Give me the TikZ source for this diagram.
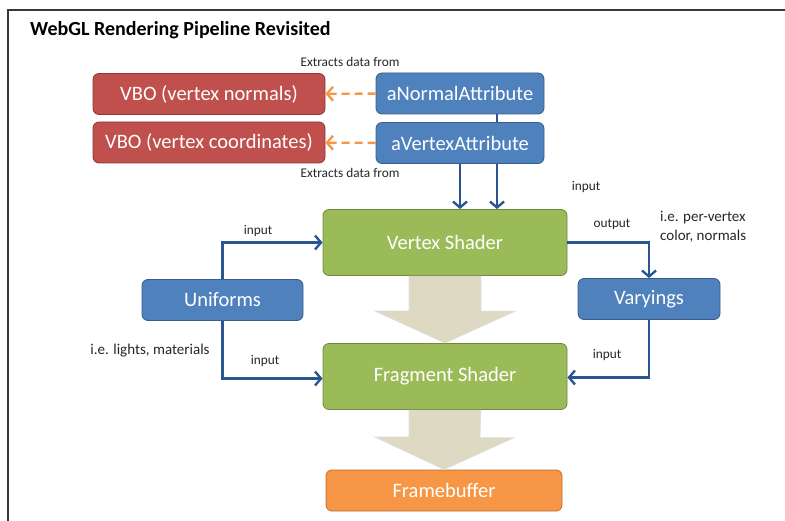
\documentclass[tikz,border=0pt]{standalone}
\usepackage{fontspec}
\setmainfont{Carlito}
\usetikzlibrary{arrows.meta, calc, positioning}
\definecolor{vboRed}{HTML}{C0504D}
\definecolor{vboRedDk}{HTML}{8C3836}
\definecolor{attrBlue}{HTML}{4F81BD}
\definecolor{attrBlueDk}{HTML}{385D8A}
\definecolor{shGreen}{HTML}{9BBB59}
\definecolor{shGreenDk}{HTML}{71893F}
\definecolor{fbOrange}{HTML}{F79646}
\definecolor{fbOrangeDk}{HTML}{B66D31}
\definecolor{flowBlue}{HTML}{2A5590}
\definecolor{pipeBeige}{HTML}{DDD9C3}
\definecolor{frameGray}{gray}{0.22}
\tikzset{
  box/.style       = {rectangle, rounded corners=6pt, line width=0.8pt,
                      text=white, font=\fontsize{20.5}{24}\selectfont,
                      minimum height=41pt, inner sep=0pt},
  vbobox/.style    = {box, fill=vboRed, draw=vboRedDk, minimum width=232pt},
  attrbox/.style   = {box, fill=attrBlue, draw=attrBlueDk, minimum width=168pt},
  sidebox/.style   = {box, fill=attrBlue, draw=attrBlueDk},
  shaderbox/.style = {box, fill=shGreen, draw=shGreenDk, minimum width=244pt,
                      minimum height=66pt},
  fbbox/.style     = {box, fill=fbOrange, draw=fbOrangeDk, minimum width=236pt},
  flow/.style      = {draw=flowBlue, line width=2.4pt, line join=miter,
                      -{Straight Barb[length=6pt, width=14pt]}},
  fetch/.style     = {draw=fbOrange, line width=2.4pt, dash pattern=on 8pt off 5pt,
                      -{Straight Barb[length=6pt, width=14pt]}},
  note/.style      = {font=\fontsize{13.3}{19}\selectfont, text=black!85,
                      inner sep=0pt},
  bignote/.style   = {note, font=\fontsize{15}{19}\selectfont},
  bigarrow/.style  = {fill=pipeBeige, draw=black!12, line width=0.6pt},
}

\begin{document}
\begin{tikzpicture}[x=1pt, y=-1pt]
  \useasboundingbox (0,0) rectangle (785,521);
  % frame (top and left only)
  \draw[frameGray, line width=1.6pt] (8,521) -- (8,10) -- (785,10);
  \node[anchor=west, font=\fontsize{20}{24}\selectfont\bfseries, inner sep=0pt]
    (title) at (30,30) {WebGL Rendering Pipeline Revisited};

  % buffers and attributes
  \node[vbobox] (vbonorm) at (209,94) {VBO (vertex normals)};
  \node[vbobox] (vbocoord) at (209,142.5) {VBO (vertex coordinates)};
  \node[attrbox] (anormal) at (460,93.5) {aNormalAttribute};
  \node[attrbox] (avertex) at (460,143) {aVertexAttribute};
  \node[note] (extop) at (350,62) {Extracts data from};
  \node[note] (exbot) at (350,173) {Extracts data from};
  \draw[fetch] (anormal) -- (vbonorm);
  \draw[fetch] (avertex) -- (vbocoord);
  \draw[flowBlue, line width=2.4pt] ([xshift=37pt]anormal.south) -- ([xshift=37pt]avertex.north);

  % shaders
  \node[shaderbox] (vshader) at (445,242.5) {Vertex Shader};
  \node[shaderbox] (fshader) at (445,376.5) {Fragment Shader};
  \node[fbbox] (fbuffer) at (444,490.5) {Framebuffer};
  \node[sidebox, minimum width=161pt] (uniforms) at (222.5,300) {Uniforms};
  \node[sidebox, minimum width=142pt] (varyings) at (649,299) {Varyings};

  % pipeline arrows
  \filldraw[bigarrow] ($(vshader.south)+(-36,0)$) -- ++(0,35) -- ++(-34.5,0)
    -- (fshader.north) -- ++(70.5,-32) -- ++(-34.5,0) -- ($(vshader.south)+(36,0)$);
  \filldraw[bigarrow] ($(fshader.south)+(-36,0)$) -- ++(0,27) -- ++(-34.5,0)
    -- (fbuffer.north) -- ++(70.5,-32) -- ++(-34.5,0) -- ($(fshader.south)+(36,0)$);

  % data flow
  \draw[flow] (avertex.south) -- (avertex.south |- vshader.north);
  \draw[flow] ([xshift=37pt]avertex.south) -- ([xshift=37pt]avertex.south |- vshader.north);
  \draw[flow] (uniforms.north) |- (vshader.west);
  \draw[flow] (uniforms.south) |- ([yshift=-2pt]fshader.west);
  \draw[flow] (vshader.east) -| (varyings.north);
  \draw[flow] (varyings.south) |- ([yshift=-1pt]fshader.west -| fshader.east);

  % labels
  \node[note] (lin1) at (586,187) {input};
  \node[note] (lout) at (612,224) {output};
  \node[bignote, anchor=west, align=left] (lvary) at (660,226.5)
    {i.e. per-vertex\\color, normals};
  \node[note] (lin2) at (258,231) {input};
  \node[note] (lin3) at (265,361) {input};
  \node[note] (lin4) at (607,355) {input};
  \node[bignote] (lunif) at (150,351) {i.e. lights, materials};
\end{tikzpicture}
\end{document}
